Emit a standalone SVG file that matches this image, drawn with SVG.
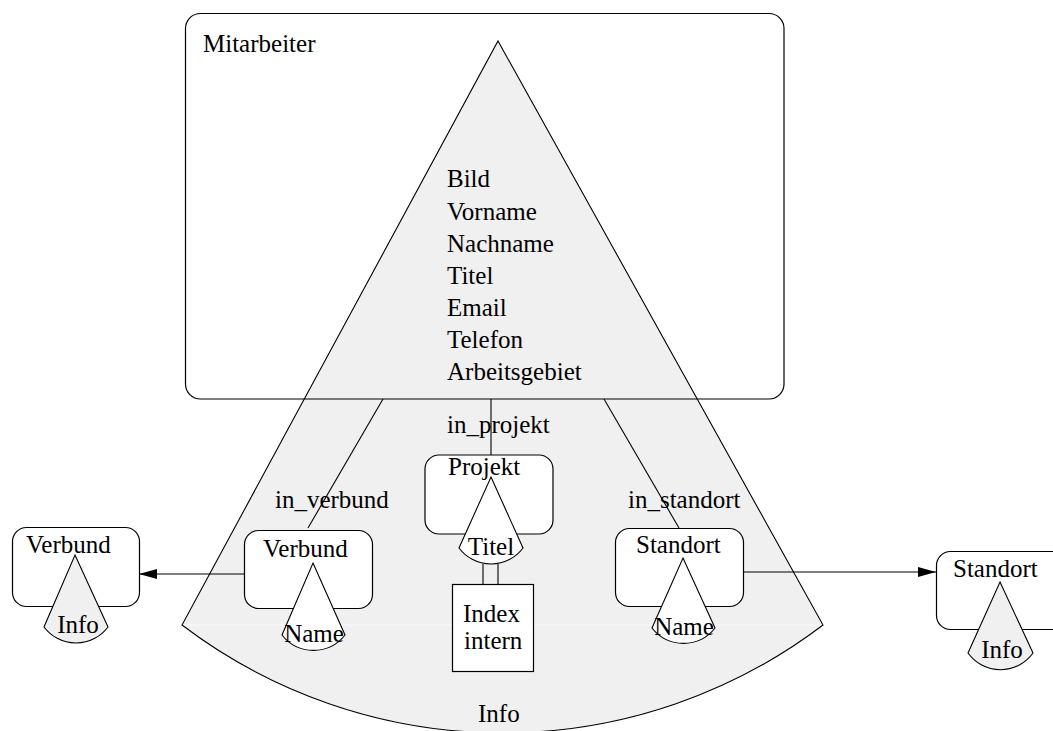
<svg xmlns="http://www.w3.org/2000/svg" width="1053" height="731" viewBox="0 0 1053 731" font-family="'Liberation Serif', 'Times New Roman', Times, serif" font-size="25">
  <style>
    text { font-family: 'Liberation Serif', 'Times New Roman', Times, serif; font-size: 25px; fill: #000; }
    .box { fill: #fff; stroke: #000; stroke-width: 1.2; }
    .frame { fill: none; stroke: #000; stroke-width: 1.2; }
    .cone { fill: #fff; stroke: #000; stroke-width: 1.1; }
    .cone-g { fill: #f0f0f0; stroke: #000; stroke-width: 1.1; }
    .link { fill: none; stroke: #000; stroke-width: 1.1; }
  </style>
  <defs>
    <marker id="arrow" viewBox="0 0 18 10" refX="18" refY="5" markerWidth="18" markerHeight="10" markerUnits="userSpaceOnUse" orient="auto">
      <path d="M0,0 L18,5 L0,10 Z" fill="#000"/>
    </marker>
  </defs>
  <rect width="1053" height="731" fill="#fff"/>

  <!-- Mitarbeiter: big info sector with attribute list -->
  <g id="mitarbeiter">
    <path d="M498,41 L823,625 A530,530 0 0 1 182,625 Z" fill="#f0f0f0" stroke="#000" stroke-width="1.1"/>
    <line x1="184" y1="625" x2="821" y2="625" stroke="#f9f9f9" stroke-width="1"/>
    <rect class="frame" x="185.5" y="13.5" width="598.5" height="385.5" rx="15"/>
    <text x="203" y="52">Mitarbeiter</text>
    <text x="447" y="187">Bild</text>
    <text x="447" y="220">Vorname</text>
    <text x="447" y="252">Nachname</text>
    <text x="447" y="284">Titel</text>
    <text x="447" y="316">Email</text>
    <text x="447" y="348">Telefon</text>
    <text x="447" y="380">Arbeitsgebiet</text>
    <text x="478" y="722">Info</text>
  </g>

  <!-- relations and references -->
  <g id="connectors">
    <line class="link" x1="383" y1="399" x2="308" y2="528"/>
    <line class="link" x1="491" y1="399" x2="491" y2="455"/>
    <line class="link" x1="604" y1="399" x2="679" y2="528"/>
    <line class="link" x1="483" y1="564" x2="483" y2="584"/>
    <line class="link" x1="498" y1="564" x2="498" y2="584"/>
    <line class="link" x1="244" y1="574" x2="139" y2="574" marker-end="url(#arrow)"/>
    <line class="link" x1="744" y1="572" x2="936" y2="572" marker-end="url(#arrow)"/>
    <text x="275" y="508">in_verbund</text>
    <text x="447" y="433">in_projekt</text>
    <text x="628" y="508">in_standort</text>
  </g>

  <g id="projekt">
    <rect class="box" x="425" y="455" width="128" height="79" rx="14"/>
    <path class="cone" d="M491,477 L523,548 A40,40 0 0 1 459,548 Z"/>
    <text x="448" y="475">Projekt</text>
    <text x="491" y="555" text-anchor="middle">Titel</text>
  </g>

  <g id="index-intern">
    <rect class="box" x="452.5" y="584.5" width="81" height="87"/>
    <text x="463" y="622">Index</text>
    <text x="464" y="649">intern</text>
  </g>

  <g id="verbund-inner">
    <rect class="box" x="244.5" y="530.5" width="128" height="78" rx="14"/>
    <path class="cone" d="M313,563 L345,635 A40,40 0 0 1 282,635 Z"/>
    <text x="263" y="557">Verbund</text>
    <text x="314" y="642" text-anchor="middle">Name</text>
  </g>

  <g id="standort-inner">
    <rect class="box" x="615.5" y="528.5" width="128" height="78" rx="14"/>
    <path class="cone" d="M683,558 L715,628 A40,40 0 0 1 652,628 Z"/>
    <text x="636" y="553">Standort</text>
    <text x="684" y="635" text-anchor="middle">Name</text>
  </g>

  <g id="verbund">
    <rect class="box" x="12.5" y="527.5" width="127" height="79" rx="14"/>
    <path class="cone-g" d="M75,555 L108,627 A40,40 0 0 1 44,627 Z"/>
    <text x="26" y="553">Verbund</text>
    <text x="78" y="633" text-anchor="middle">Info</text>
  </g>

  <g id="standort">
    <rect class="box" x="936.5" y="551.5" width="135" height="78" rx="14"/>
    <path class="cone-g" d="M1000,582 L1033,653 A40,40 0 0 1 968,653 Z"/>
    <text x="953" y="577">Standort</text>
    <text x="1002" y="658" text-anchor="middle">Info</text>
  </g>
</svg>
